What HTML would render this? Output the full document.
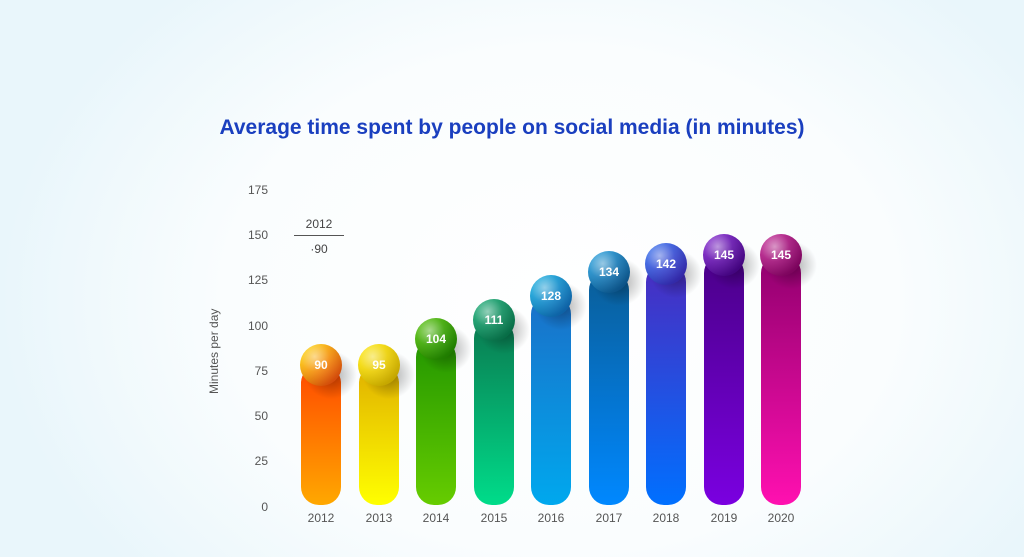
<!DOCTYPE html>
<html><head><style>
html,body{margin:0;padding:0}
body{width:1024px;height:557px;overflow:hidden;background:radial-gradient(ellipse 560px 420px at 560px 300px,#ffffff 0%,#fafdfe 60%,#e9f6fb 100%);font-family:"Liberation Sans",sans-serif;position:relative}
.t{position:absolute;left:0;width:1024px;top:116px;text-align:center;color:#1a3fbf;font-weight:bold;font-size:21px}
.y{position:absolute;width:40px;text-align:right;left:228px;font-size:12px;color:#555}
.x{position:absolute;width:50px;text-align:center;font-size:12px;color:#555;top:511px}
</style></head><body>
<div class="t">Average time spent by people on social media (in minutes)</div>
<div class="y" style="top:183px">175</div>
<div class="y" style="top:228px">150</div>
<div class="y" style="top:273px">125</div>
<div class="y" style="top:319px">100</div>
<div class="y" style="top:364px">75</div>
<div class="y" style="top:409px">50</div>
<div class="y" style="top:454px">25</div>
<div class="y" style="top:500px">0</div>
<div style="position:absolute;left:207px;top:394px;transform:rotate(-90deg);transform-origin:0 0;font-size:12px;color:#555;white-space:nowrap">Minutes per day</div>
<div style="position:absolute;left:294px;top:217px;width:50px;text-align:center;font-size:12px;color:#444;border-bottom:1px solid #555;padding-bottom:4px">2012</div>
<div style="position:absolute;left:294px;top:242px;width:50px;text-align:center;font-size:12px;color:#444">·90</div>
<svg width="1024" height="557" style="position:absolute;left:0;top:0">
<defs>
<radialGradient id="sh" cx="0.5" cy="0.5" r="0.5"><stop offset="0" stop-color="#000" stop-opacity="0.35"/><stop offset="1" stop-color="#000" stop-opacity="0"/></radialGradient>
<radialGradient id="gl" cx="0.35" cy="0.3" r="0.7"><stop offset="0" stop-color="#fff" stop-opacity="0.55"/><stop offset="0.5" stop-color="#fff" stop-opacity="0.1"/><stop offset="1" stop-color="#000" stop-opacity="0.1"/></radialGradient>
</defs>
<g id="bars"></g>
</svg>
<script>
var d=[[321,365,90,'#ff4800','#ffa800','#e83a10','#ffe000'],[379,365,95,'#e0b000','#ffff00','#d4b000','#ffe800'],[436,339,104,'#229600','#66cc00','#1a8000','#50c000'],[494,320,111,'#0a7a50','#00dc8a','#087048','#10a870'],[551,296,128,'#1a70c8','#00a8ee','#1060b0','#10b0e0'],[609,272,134,'#0a5e98','#0088ff','#0a4e88','#20a0e0'],[666,264,142,'#4a2cc0','#0070ff','#3a20b0','#3070f0'],[724,255,145,'#4a0088','#7a00e0','#400080','#8020d0'],[781,255,145,'#90006e','#ff10b0','#800060','#c02090']];
var s='',defs='';
d.forEach(function(b,i){
defs+='<linearGradient id="b'+i+'" x1="0" y1="0" x2="0" y2="1"><stop offset="0" stop-color="'+b[3]+'"/><stop offset="1" stop-color="'+b[4]+'"/></linearGradient>';
defs+='<linearGradient id="c'+i+'" x1="0" y1="0" x2="1" y2="1"><stop offset="0" stop-color="'+b[6]+'"/><stop offset="1" stop-color="'+b[5]+'"/></linearGradient>';
s+='<rect x="'+(b[0]-20)+'" y="'+b[1]+'" width="40" height="'+(505-b[1])+'" rx="18" fill="url(#b'+i+')"/>';
s+='<ellipse cx="'+(b[0]+10)+'" cy="'+(b[1]+10)+'" rx="26" ry="24" fill="url(#sh)"/>';
s+='<circle cx="'+b[0]+'" cy="'+b[1]+'" r="21" fill="url(#c'+i+')"/>';
s+='<circle cx="'+b[0]+'" cy="'+b[1]+'" r="21" fill="url(#gl)"/>';
s+='<text x="'+b[0]+'" y="'+(b[1]+4)+'" text-anchor="middle" font-family="Liberation Sans,sans-serif" font-weight="bold" font-size="12" fill="#fff">'+b[2]+'</text>';
});
var g=document.getElementById('bars');
g.parentNode.querySelector('defs').innerHTML+=defs;
g.innerHTML=s;
var yrs=[2012,2013,2014,2015,2016,2017,2018,2019,2020];
d.forEach(function(b,i){var e=document.createElement('div');e.className='x';e.style.left=(b[0]-25)+'px';e.textContent=yrs[i];document.body.appendChild(e);});
</script>
</body></html>
